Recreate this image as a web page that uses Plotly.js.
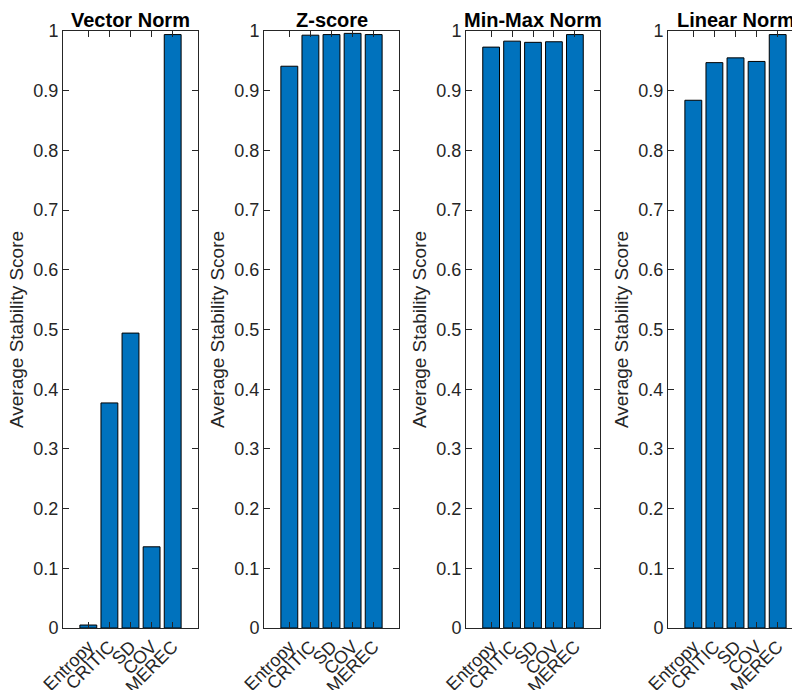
<!DOCTYPE html>
<html>
<head>
<meta charset="utf-8">
<script src="https://cdn.plot.ly/plotly-3.0.1.min.js"></script>
<style>
html,body{margin:0;padding:0;overflow:hidden;background:#fff;width:792px;height:690px;}
#chart{width:812px;height:690px;}
</style>
</head>
<body>
<div id="chart"></div>
<script>
const categories = ["Entropy", "CRITIC", "SD", "COV", "MEREC"];
const panelTitles = ["Vector Norm", "Z-score", "Min-Max Norm", "Linear Norm"];
const vectorNorm = [0.005, 0.377, 0.494, 0.136, 0.994];
const zScore = [0.941, 0.993, 0.994, 0.996, 0.994];
const minMaxNorm = [0.973, 0.983, 0.981, 0.982, 0.994];
const linearNorm = [0.884, 0.947, 0.955, 0.949, 0.994];
const yTickVals = [0, 0.1, 0.2, 0.3, 0.4, 0.5, 0.6, 0.7, 0.8, 0.9, 1];
const yTickText = ["0", "0.1", "0.2", "0.3", "0.4", "0.5", "0.6", "0.7", "0.8", "0.9", "1"];
const yTitle = "Average Stability Score";

const series = [vectorNorm, zScore, minMaxNorm, linearNorm];

const W = 812, H = 690;
const pxX = [[63, 198], [264, 399], [466, 600], [668, 803]];
const yDom = [(H - 628) / H, (H - 31) / H];
const FONT = "Liberation Sans, Arial, Helvetica, sans-serif";
const AX = "#262626";
const xPos = categories.map((c, i) => i + 1);

const data = [];
const layout = {
  width: W, height: H,
  margin: {l: 0, r: 0, t: 0, b: 0},
  paper_bgcolor: "#ffffff", plot_bgcolor: "#ffffff",
  showlegend: false,
  font: {family: FONT, size: 18, color: AX},
  annotations: []
};

series.forEach((vals, k) => {
  const s = k === 0 ? "" : String(k + 1);
  data.push({
    type: "bar",
    x: xPos,
    y: vals,
    width: 0.8,
    xaxis: "x" + s,
    yaxis: "y" + s,
    marker: {color: "#0072BD", line: {color: "#000000", width: 1}},
    hoverinfo: "none"
  });
  layout["xaxis" + s] = {
    domain: [pxX[k][0] / W, pxX[k][1] / W],
    anchor: "y" + s,
    range: [-0.2, 6.2],
    tickmode: "array",
    tickvals: xPos,
    ticktext: categories,
    tickangle: -45,
    ticks: "inside",
    ticklen: 6,
    tickcolor: AX,
    tickwidth: 1,
    showline: true,
    linecolor: AX,
    linewidth: 1,
    mirror: "ticks",
    showgrid: false,
    zeroline: false,
    tickfont: {family: FONT, size: 18, color: AX},
    fixedrange: true
  };
  layout["yaxis" + s] = {
    domain: yDom,
    anchor: "x" + s,
    range: [0, 1],
    tickmode: "array",
    tickvals: yTickVals,
    ticktext: yTickText,
    ticks: "inside",
    ticklen: 6,
    tickcolor: AX,
    tickwidth: 1,
    showline: true,
    linecolor: AX,
    linewidth: 1,
    mirror: "ticks",
    showgrid: false,
    zeroline: false,
    tickfont: {family: FONT, size: 18, color: AX},
    title: {text: yTitle, font: {family: FONT, size: 19, color: AX}, standoff: 4},
    fixedrange: true
  };
  layout.annotations.push({
    xref: "paper", yref: "paper",
    x: (pxX[k][0] + pxX[k][1]) / 2 / W,
    y: (H - 20) / H,
    xanchor: "center", yanchor: "middle",
    showarrow: false,
    text: panelTitles[k],
    font: {family: FONT, size: 20, color: "#000000", weight: "bold"}
  });
});

Plotly.newPlot("chart", data, layout, {displayModeBar: false, staticPlot: true});
</script>
</body>
</html>
